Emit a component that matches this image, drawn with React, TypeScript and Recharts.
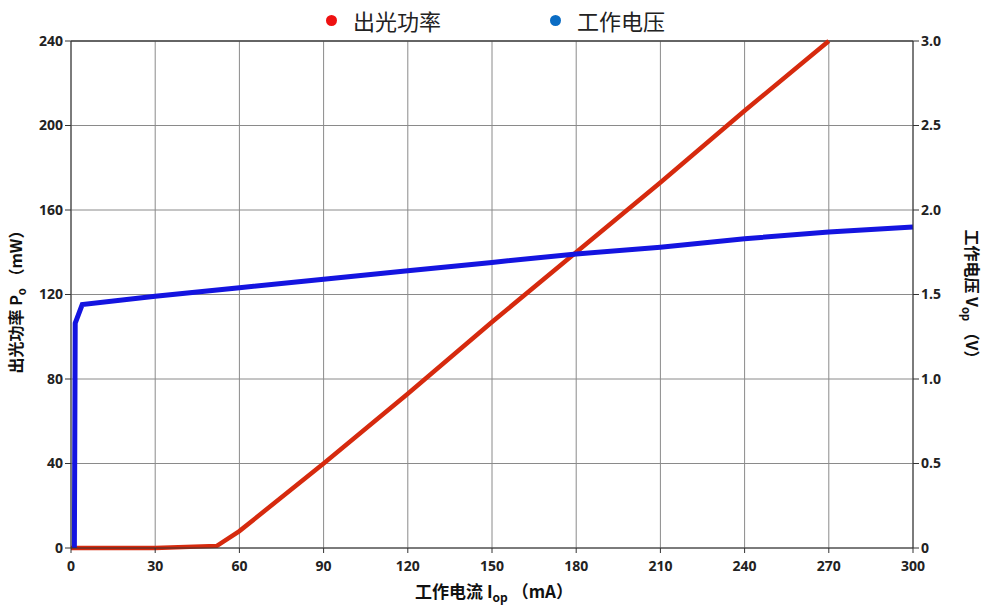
import { LineChart, Line, XAxis, YAxis, CartesianGrid, ReferenceLine } from "recharts";

const powerCurrent = [0, 30, 52, 60, 90, 120, 150, 180, 210, 240, 270];
const powerValues = [0, 0, 1, 8, 40, 73, 107, 140, 173, 207, 240];

const voltageCurrent = [1.2, 1.5, 4, 30, 60, 90, 120, 150, 180, 210, 240, 270, 300];
const voltageValues = [0, 1.33, 1.44, 1.49, 1.54, 1.59, 1.64, 1.69, 1.74, 1.78, 1.83, 1.87, 1.9];

const xTicks = [0, 30, 60, 90, 120, 150, 180, 210, 240, 270, 300];
const leftTicks = [0, 40, 80, 120, 160, 200, 240];
const rightTicks = [0, 0.5, 1.0, 1.5, 2.0, 2.5, 3.0];

const powerData = powerCurrent.map((x, i) => ({ x, p: powerValues[i] }));
const voltageData = voltageCurrent.map((x, i) => ({ x, v: voltageValues[i] }));

const font = "'Noto Sans CJK SC', 'Open Sans', sans-serif";
const tickStyle = { fill: "#222", fontSize: 14, fontWeight: 700, fontFamily: "'Open Sans', sans-serif" };

const LeftLabel = () => (
  <text
    x={22}
    y={298}
    transform="rotate(-90 22 298)"
    textAnchor="middle"
    fontFamily={font}
    fontWeight={700}
    fontSize={16}
    fill="#111"
  >
    出光功率 P<tspan fontSize={11} dy={4}>o</tspan>
    <tspan dy={-4}> （mW）</tspan>
  </text>
);

const RightLabel = () => (
  <text
    x={966}
    y={298}
    transform="rotate(90 966 298)"
    textAnchor="middle"
    fontFamily={font}
    fontWeight={700}
    fontSize={16}
    fill="#111"
  >
    工作电压 V<tspan fontSize={11} dy={4}>op</tspan>
    <tspan dy={-4}> （V）</tspan>
  </text>
);

const BottomLabel = () => (
  <text x={494} y={598} textAnchor="middle" fontFamily={font} fontWeight={700} fontSize={17} fill="#111">
    工作电流 I<tspan fontSize={12} dy={4}>op</tspan>
    <tspan dy={-4}> （mA）</tspan>
  </text>
);

export default function App() {
  return (
    <div style={{ position: "absolute", left: 0, top: 0, width: 987, height: 606, background: "#fff" }}>
      <div
        style={{
          position: "absolute",
          top: 4,
          left: 0,
          width: 987,
          fontFamily: font,
          fontSize: 22,
          color: "#222",
          zIndex: 2,
        }}
      >
        <span style={{ position: "absolute", left: 326, top: 0, display: "flex", alignItems: "center" }}>
          <span style={{ width: 11, height: 11, borderRadius: "50%", background: "#ee1111", marginRight: 16 }} />
          出光功率
        </span>
        <span style={{ position: "absolute", left: 550, top: 0, display: "flex", alignItems: "center" }}>
          <span style={{ width: 11, height: 11, borderRadius: "50%", background: "#0a6cc4", marginRight: 16 }} />
          工作电压
        </span>
      </div>
      <LineChart width={987} height={606} margin={{ top: 41, right: 0, left: 0, bottom: 0 }}>
        <CartesianGrid stroke="#8a8a8a" strokeWidth={1} yAxisId="left" />
        <XAxis
          dataKey="x"
          type="number"
          domain={[0, 300]}
          ticks={xTicks}
          height={58}
          tick={{ ...tickStyle, dy: 6 }}
          tickSize={5}
          stroke="#333"
          allowDuplicatedCategory={false}
          label={{ content: () => <BottomLabel /> }}
        />
        <YAxis
          yAxisId="left"
          domain={[0, 240]}
          ticks={leftTicks}
          width={71}
          tick={tickStyle}
          tickSize={6}
          stroke="#333"
          label={{ content: () => <LeftLabel /> }}
        />
        <YAxis
          yAxisId="right"
          orientation="right"
          domain={[0, 3]}
          ticks={rightTicks}
          width={74}
          tick={{ ...tickStyle, textAnchor: "start" }}
          tickFormatter={(v: number) => (v === 0 ? "0" : v.toFixed(1))}
          tickSize={6}
          stroke="#333"
          label={{ content: () => <RightLabel /> }}
        />
        <ReferenceLine yAxisId="left" y={240} stroke="#444" strokeWidth={1.5} />
        <Line
          yAxisId="left"
          data={powerData}
          dataKey="p"
          type="linear"
          stroke="#d62a0e"
          strokeWidth={4.5}
          dot={false}
          isAnimationActive={false}
        />
        <Line
          yAxisId="right"
          data={voltageData}
          dataKey="v"
          type="linear"
          stroke="#1414e0"
          strokeWidth={5}
          dot={false}
          isAnimationActive={false}
        />
      </LineChart>
    </div>
  );
}
